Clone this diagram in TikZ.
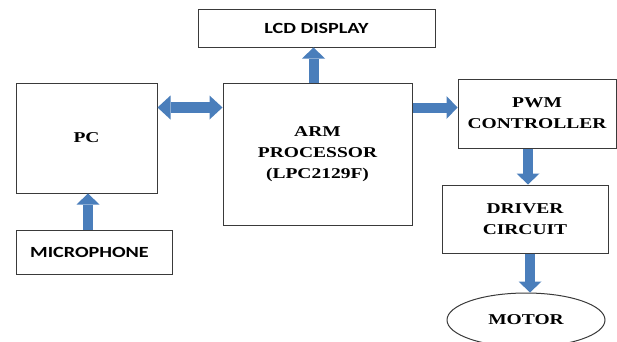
\documentclass[tikz,border=0pt]{standalone}
\usepackage{fontspec}
\usetikzlibrary{arrows.meta, shapes.geometric, calc}
\newfontfamily\blockserif[FakeStretch=1.3]{Liberation Serif}
\newfontfamily\blocksans[FakeStretch=1.3]{Carlito}
\definecolor{armblue}{HTML}{4A7EBB}
\definecolor{armline}{HTML}{3A3A3A}

\begin{document}
\begin{tikzpicture}[x=1pt, y=1pt,
  block/.style={draw=armline, line width=1pt, inner sep=0pt, align=center},
  serifbold/.style={font=\blockserif\bfseries\fontsize{15}{21}\selectfont},
  sansbold/.style={font=\blocksans\bfseries\fontsize{15.5}{18}\selectfont},
  flow/.style={armblue, line width=10pt, -{Triangle[width=23pt, length=11pt, line width=0pt]}},
  dflow/.style={armblue, line width=11pt, {Triangle[width=24pt, length=13pt, line width=0pt]}-{Triangle[width=24pt, length=13pt, line width=0pt]}}
]
  \useasboundingbox (0,0) rectangle (617,341);

  % Blocks
  \node[block, sansbold, minimum width=237pt, minimum height=37pt] (lcd) at (316.5,312.5) {LCD DISPLAY};
  \node[block, serifbold, minimum width=141pt, minimum height=110pt] (pc) at (86.5,203) {PC};
  \node[block, serifbold, minimum width=189pt, minimum height=142pt] (arm) at (317.5,187) {ARM\\PROCESSOR\\(LPC2129F)};
  \node[block, serifbold, minimum width=158pt, minimum height=69pt] (pwm) at (537,227.5) {PWM\\CONTROLLER};
  \node[block, sansbold, minimum width=156pt, minimum height=44pt] (mic) at (94,89) {MICROPHONE\hspace*{9pt}};
  \node[block, serifbold, minimum width=166pt, minimum height=68pt] (driver) at (525,122) {DRIVER\\CIRCUIT};
  \node[block, serifbold, ellipse, minimum width=158pt, minimum height=54pt] (motor) at (526,21) {MOTOR};

  % Arrows
  \draw[flow] ([xshift=-4pt]arm.north) -- ([xshift=-4pt]arm.north |- lcd.south);
  \draw[dflow] ([yshift=-25pt]pc.north east) -- ([yshift=-25pt]pc.north east -| arm.west);
  \draw[flow] ([yshift=-25pt]arm.north east) -- ([yshift=-25pt]arm.north east -| pwm.west);
  \draw[flow] ([xshift=-9pt]pwm.south) -- ([xshift=-9pt]pwm.south |- driver.north);
  \draw[flow] ([xshift=5pt]driver.south) -- ([xshift=5pt]driver.south |- motor.north);
  \draw[flow] ([xshift=-6pt]mic.north) -- ([xshift=-6pt]mic.north |- pc.south);
\end{tikzpicture}
\end{document}
